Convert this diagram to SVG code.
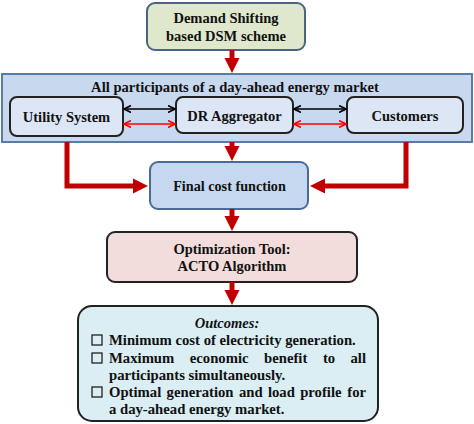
<svg xmlns="http://www.w3.org/2000/svg" width="474" height="424" viewBox="0 0 474 424">
<defs>
<marker id="big" markerWidth="4" markerHeight="4" refX="0.4" refY="2" orient="auto" markerUnits="strokeWidth">
<path d="M0,0.5 L3,2 L0,3.5 Z" fill="#c00000"/>
</marker>
<marker id="kb" markerWidth="8" markerHeight="8" refX="7" refY="4" orient="auto-start-reverse" markerUnits="userSpaceOnUse">
<path d="M0,0.5 L7,4 L0,7.5" fill="none" stroke="#000" stroke-width="1.6"/>
</marker>
<marker id="rd" markerWidth="8" markerHeight="8" refX="7" refY="4" orient="auto-start-reverse" markerUnits="userSpaceOnUse">
<path d="M0,0.5 L7,4 L0,7.5" fill="none" stroke="#ff0000" stroke-width="1.6"/>
</marker>
</defs>
<style>
text{font-family:'Liberation Serif','Times New Roman',serif;font-weight:bold;fill:#111;}
.box{stroke-width:2;}
.fat{fill:none;stroke:#c00000;stroke-width:5;stroke-linejoin:miter;}
.blk{stroke:#000;stroke-width:1.6;fill:none;}
.red{stroke:#ff0000;stroke-width:1.6;fill:none;}
</style>
<rect width="474" height="424" fill="#fff"/>
<g id="dsm">
<rect class="box" x="147" y="3" width="158" height="47" rx="8" fill="#dfe8cc" stroke="#4a6488"/>
<text x="226" y="23" font-size="14.5" text-anchor="middle">Demand Shifting</text>
<text x="226" y="41" font-size="14.5" text-anchor="middle">based DSM scheme</text>
</g>
<g id="market">
<rect class="box" x="2" y="74" width="470" height="68" fill="#c8d8ee" stroke="#5a7aa8"/>
<text x="235" y="92" font-size="14.6" text-anchor="middle">All participants of a day-ahead energy market</text>
</g>
<g id="utility">
<rect class="box" x="10" y="97" width="113" height="39" rx="7" fill="#dce6f4" stroke="#222"/>
<text x="66.5" y="122" font-size="14.5" text-anchor="middle">Utility System</text>
</g>
<g id="aggregator">
<rect class="box" x="176" y="97" width="117" height="36" rx="7" fill="#dce6f4" stroke="#222"/>
<text x="234.5" y="121" font-size="14.5" text-anchor="middle">DR Aggregator</text>
</g>
<g id="customers">
<rect class="box" x="347" y="97" width="116" height="36" rx="7" fill="#dce6f4" stroke="#222"/>
<text x="405" y="121" font-size="14.5" text-anchor="middle">Customers</text>
</g>
<g id="cost">
<rect class="box" x="150" y="162" width="158" height="47" rx="8" fill="#c5d8f0" stroke="#4a6a9a"/>
<text x="229.5" y="191" font-size="14.2" text-anchor="middle">Final cost function</text>
</g>
<g id="opt">
<rect class="box" x="107" y="232" width="250" height="50" rx="8" fill="#f2dcdc" stroke="#222"/>
<text x="232" y="254" font-size="14.5" text-anchor="middle">Optimization Tool:</text>
<text x="232" y="271" font-size="14.5" text-anchor="middle">ACTO Algorithm</text>
</g>
<g id="outcomes">
<rect class="box" x="78" y="306" width="300" height="115" rx="14" fill="#daeef3" stroke="#222"/>
<text x="227" y="328" font-size="14.5" font-style="italic" text-anchor="middle">Outcomes:</text>
<g fill="none" stroke="#111" stroke-width="1.2">
<rect x="92" y="335" width="10" height="10"/>
<rect x="92" y="353" width="10" height="10"/>
<rect x="92" y="387" width="10" height="10"/>
</g>
<text x="109" y="345" font-size="14.7">Minimum cost of electricity generation.</text>
<text y="363" font-size="14.7"><tspan x="109">Maximum</tspan><tspan x="189.8">economic</tspan><tspan x="264.1">benefit</tspan><tspan x="322.9">to</tspan><tspan x="366" text-anchor="end">all</tspan></text>
<text x="109" y="380" font-size="14.7">participants simultaneously.</text>
<text y="397" font-size="14.7"><tspan x="109">Optimal</tspan><tspan x="166.6">generation</tspan><tspan x="238.9">and</tspan><tspan x="267.9">load</tspan><tspan x="300.2">profile</tspan><tspan x="366" text-anchor="end">for</tspan></text>
<text x="109" y="414" font-size="14.7">a day-ahead energy market.</text>
</g>
<g id="connectors">
<path class="fat" d="M232,50 V60" marker-end="url(#big)"/>
<path class="fat" d="M232,142 V148" marker-end="url(#big)"/>
<path class="fat" d="M67,142 V186 H135" marker-end="url(#big)"/>
<path class="fat" d="M406,142 V186 H323" marker-end="url(#big)"/>
<path class="fat" d="M232,209 V218" marker-end="url(#big)"/>
<path class="fat" d="M232,282 V292" marker-end="url(#big)"/>
<path class="blk" d="M124,109 H175" marker-start="url(#kb)" marker-end="url(#kb)"/>
<path class="blk" d="M294,109 H346" marker-start="url(#kb)" marker-end="url(#kb)"/>
<path class="red" d="M124,124 H175" marker-start="url(#rd)" marker-end="url(#rd)"/>
<path class="red" d="M294,124 H346" marker-start="url(#rd)" marker-end="url(#rd)"/>
</g>
</svg>
